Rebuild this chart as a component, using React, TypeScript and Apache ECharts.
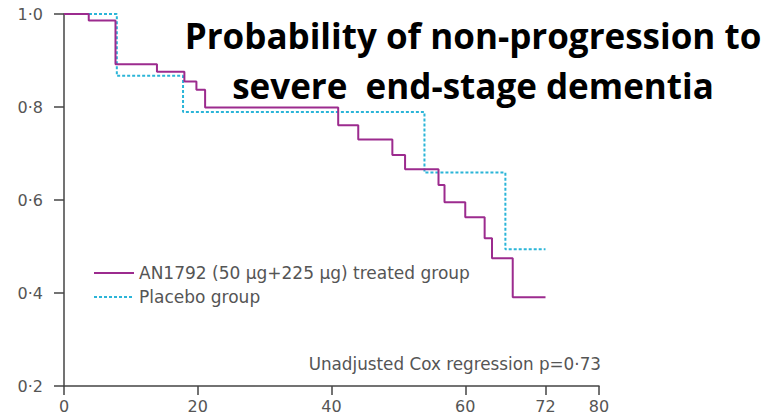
import React, { useEffect, useRef } from "react";
import * as echarts from "echarts";

// Kaplan–Meier steps: [month of event, survival probability after the event]
const treatedName = "AN1792 (50 µg+225 µg) treated group";
const placeboName = "Placebo group";

const treatedSteps: [number, number][] = [
  [0, 1.0], [3.7, 0.986], [7.7, 0.892], [13.9, 0.876], [18.0, 0.855],
  [19.8, 0.837], [21.1, 0.799], [41.0, 0.761], [44.0, 0.73], [49.1, 0.697],
  [51.0, 0.666], [56.0, 0.632], [56.9, 0.595], [60.0, 0.563], [62.9, 0.518],
  [64.0, 0.475], [67.1, 0.391], [72.0, 0.391],
];

const placeboSteps: [number, number][] = [
  [0, 1.0], [7.9, 0.867], [17.8, 0.789], [53.9, 0.659], [66.0, 0.494], [72.0, 0.494],
];

const xTicks = [0, 20, 40, 60, 72, 80];
const titleLines = ["Probability of non-progression to", "severe  end-stage dementia"];
const coxNote = "Unadjusted Cox regression p=0·73";

const fmt = (v: number) => v.toFixed(1).replace(".", "·");

export default function App() {
  const ref = useRef<HTMLDivElement>(null);

  useEffect(() => {
    if (!ref.current) return;
    const chart = echarts.init(ref.current, null, { renderer: "svg" });
    const axisColor = "#444";
    const labelColor = "#555";
    const font = "'DejaVu Sans', 'Noto Sans', sans-serif";
    const titleFont = "'Open Sans', 'Noto Sans', sans-serif";

    chart.setOption({
      animation: false,
      backgroundColor: "#fff",
      grid: { left: 64, right: 177, top: 14, bottom: 30, containLabel: false },
      xAxis: {
        type: "value",
        min: 0,
        max: 80,
        splitLine: { show: false },
        axisLine: { lineStyle: { color: axisColor, width: 1.5 } },
        axisTick: { length: 9, lineStyle: { color: axisColor, width: 1.5 }, customValues: xTicks },
        axisLabel: {
          customValues: xTicks,
          color: labelColor,
          fontSize: 16,
          fontFamily: font,
          margin: 12,
        },
      },
      yAxis: {
        type: "value",
        min: 0.2,
        max: 1.0,
        interval: 0.2,
        splitLine: { show: false },
        axisLine: { show: true, lineStyle: { color: axisColor, width: 1.5 } },
        axisTick: { show: true, length: 10, lineStyle: { color: axisColor, width: 1.5 } },
        axisLabel: {
          color: labelColor,
          fontSize: 16,
          fontFamily: font,
          margin: 21,
          formatter: (v: number) => fmt(v),
        },
      },
      legend: {
        orient: "vertical",
        left: 93,
        top: 264,
        padding: 0,
        itemWidth: 40,
        itemHeight: 14,
        itemGap: 6,
        itemStyle: { opacity: 0 },
        textStyle: { color: labelColor, fontSize: 17, fontFamily: font, lineHeight: 18 },
        data: [treatedName, placeboName],
      },
      series: [
        {
          name: treatedName,
          type: "line",
          step: "end",
          symbol: "none",
          data: treatedSteps,
          lineStyle: { color: "#9c2b8e", width: 2 },
          itemStyle: { color: "#9c2b8e" },
          z: 3,
        },
        {
          name: placeboName,
          type: "line",
          step: "end",
          symbol: "none",
          data: placeboSteps,
          lineStyle: { color: "#2bb5d8", width: 2, type: [3, 2] },
          itemStyle: { color: "#2bb5d8" },
          z: 2,
        },
      ],
      graphic: [
        {
          type: "text",
          x: 473,
          y: 10,
          style: {
            text: titleLines.join("\n"),
            font: `bold 35px ${titleFont}`,
            fill: "#000",
            align: "center",
            verticalAlign: "top",
            lineHeight: 50,
          },
        },
        {
          type: "text",
          x: 601,
          y: 364,
          style: {
            text: coxNote,
            font: `16.8px ${font}`,
            fill: labelColor,
            align: "right",
            verticalAlign: "middle",
          },
        },
      ],
    });

    return () => chart.dispose();
  }, []);

  return (
    <div
      ref={ref}
      style={{ position: "absolute", left: 0, top: 0, width: 776, height: 416 }}
    />
  );
}
